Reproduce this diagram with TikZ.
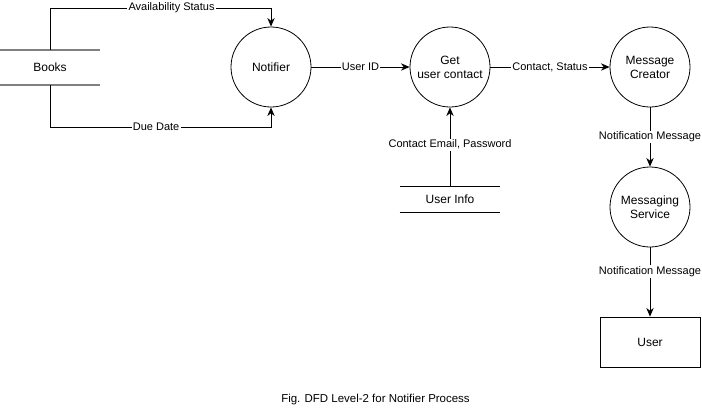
\documentclass[tikz,border=0pt]{standalone}
\usepackage{fontspec}
\setmainfont{Liberation Sans}
\usetikzlibrary{arrows.meta}

\tikzset{
  process/.style={draw, circle, line width=0.6pt, minimum size=60pt, inner sep=0pt,
    align=center, font=\fontsize{9}{10.5}\selectfont},
  entity/.style={draw, rectangle, line width=0.6pt, minimum width=75pt, minimum height=37.5pt,
    font=\fontsize{9}{10.5}\selectfont},
  store/.style={minimum width=75pt, inner sep=0pt, font=\fontsize{9}{10.5}\selectfont},
  flow/.style={draw, line width=0.6pt, -{Stealth[length=6.5pt,width=5.5pt]}},
  lbl/.style={fill=white, inner sep=1pt, font=\fontsize{8.25}{9.5}\selectfont}
}

\begin{document}
\begin{tikzpicture}[x=0.75pt, y=-0.75pt]
    \useasboundingbox[fill=white] (0,0) rectangle (702,418);

    % Data stores
    \node[store, minimum height=26.25pt] (books) at (50,67.5) {Books};
    \draw[gray, line width=1.5pt] (books.north west) -- (books.north east);
    \draw[gray, line width=1.5pt] (books.south west) -- (books.south east);

    \node[store, minimum height=18.75pt] (userinfo) at (450,199.5) {User Info};
    \draw[line width=0.6pt] (userinfo.north west) -- (userinfo.north east);
    \draw[line width=0.6pt] (userinfo.south west) -- (userinfo.south east);

    % Processes
    \node[process] (notifier) at (271,67) {Notifier};
    \node[process] (getcontact) at (450,67) {Get\\user contact};
    \node[process] (creator) at (650,67) {Message\\Creator};
    \node[process] (service) at (650,207) {Messaging\\Service};

    % External entity
    \node[entity] (user) at (650,342) {User};

    % Flows
    \coordinate (avail-a) at (50,8);
    \coordinate (avail-b) at (271,8);
    \draw[flow] (books.north) -- (avail-a) -- node[lbl, pos=0.55] {Availability Status} (avail-b) -- (notifier.north);

    \coordinate (due-a) at (50,127);
    \coordinate (due-b) at (271,127);
    \draw[flow] (books.south) -- (due-a) -- node[lbl, pos=0.48] {Due Date} (due-b) -- (notifier.south);

    \draw[flow] (notifier) -- node[lbl] {User ID} (getcontact);
    \draw[flow] (getcontact) -- node[lbl] {Contact, Status} (creator);
    \draw[flow] (userinfo.north) -- node[lbl, pos=0.53] {Contact Email, Password} (getcontact.south);
    \draw[flow] (creator) -- node[lbl] {Notification Message} (service);
    \draw[flow] (service) -- node[lbl, pos=0.35] {Notification Message} (user);

    % Caption
    \node[font=\fontsize{8.6}{10}\selectfont] (caption) at (375.5,400) {Fig. DFD Level-2 for Notifier Process};
\end{tikzpicture}
\end{document}
